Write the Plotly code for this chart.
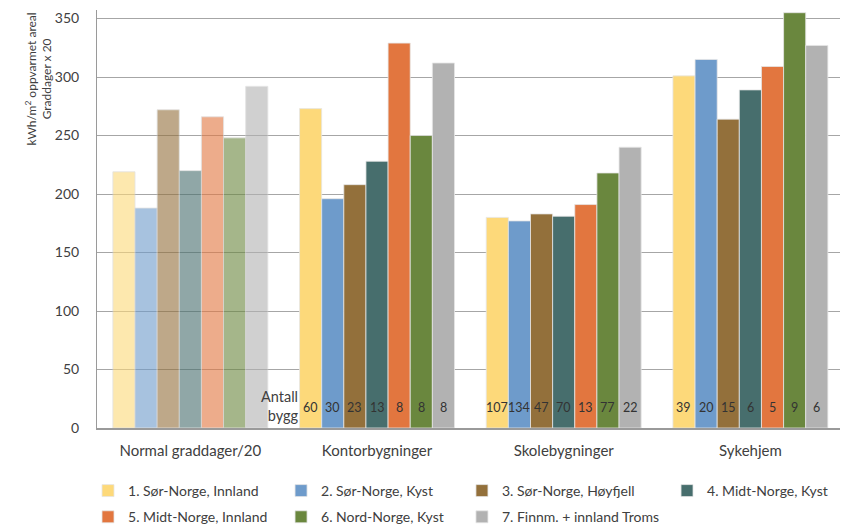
import plotly.graph_objects as go

# --- data -------------------------------------------------------------
categories = ["Normal graddager/20", "Kontorbygninger", "Skolebygninger", "Sykehjem"]
series_names = [
    "1. Sør-Norge, Innland",
    "2. Sør-Norge, Kyst",
    "3. Sør-Norge, Høyfjell",
    "4. Midt-Norge, Kyst",
    "5. Midt-Norge, Innland",
    "6. Nord-Norge, Kyst",
    "7. Finnm. + innland Troms",
]
# normal degree days / 20 per climate zone
normal_graddager = [219, 188, 272, 220, 266, 248, 292]
# kWh/m2 heated area per building type, one list per zone (Kontor, Skole, Sykehjem)
kontor = [273, 196, 208, 228, 329, 250, 312]
skole = [180, 177, 183, 181, 191, 218, 240]
sykehjem = [301, 315, 264, 289, 309, 355, 327]
# number of buildings behind each bar
antall_kontor = [60, 30, 23, 13, 8, 8, 8]
antall_skole = [107, 134, 47, 70, 13, 77, 22]
antall_sykehjem = [39, 20, 15, 6, 5, 9, 6]
y_ticks = [0, 50, 100, 150, 200, 250, 300, 350]

# --- styling ----------------------------------------------------------
colors = ["#FDD97A", "#6E9BCB", "#93703B", "#476E6D", "#E2763F", "#6A873E", "#B2B2B2"]
FONT = "Lato"
TXT = "#404040"
BARGAP = 0.17
LABEL_Y = 17.4

energy = [kontor, skole, sykehjem]
counts = [antall_kontor, antall_skole, antall_sykehjem]

# legend laid out as four columns (one legend box per column)
legend_ids = ["legend", "legend2", "legend3", "legend4"]
legend_x = [-0.0121, 0.2477, 0.4912, 0.7672]

fig = go.Figure()

for i, name in enumerate(series_names):
    # faded reference bar (degree days)
    fig.add_trace(go.Bar(
        x=[categories[0]], y=[normal_graddager[i]],
        offsetgroup=str(i), name=name, showlegend=False,
        legendgroup=str(i), legend=legend_ids[i % 4],
        marker=dict(color=colors[i], opacity=0.6,
                    line=dict(color="#D0D0D0", width=0.8)),
        hoverinfo="skip",
    ))
    # energy use per building type
    fig.add_trace(go.Bar(
        x=categories[1:], y=[e[i] for e in energy],
        offsetgroup=str(i), name=name,
        legendgroup=str(i), legend=legend_ids[i % 4],
        marker=dict(color=colors[i], line=dict(color="#E6E6E6", width=0.8)),
    ))

# building counts at the foot of each bar
w = (1 - BARGAP) / len(series_names)
annotations = []
for j, cnt in enumerate(counts, start=1):
    for i, n in enumerate(cnt):
        annotations.append(dict(
            x=j + (i - 3) * w, y=LABEL_Y, xref="x", yref="y",
            text=str(n), showarrow=False,
            font=dict(family=FONT, size=12.5, color="#333333"),
        ))
annotations.append(dict(
    x=1 - 3.5 * w, y=LABEL_Y + 1, xref="x", yref="y",
    xanchor="right", yanchor="middle", align="right",
    text="Antall<br>bygg", showarrow=False,
    font=dict(family=FONT, size=14.5, color=TXT),
))
# two-line y-axis title
annotations.append(dict(
    x=-0.078, y=0.834, xref="paper", yref="paper",
    text="kWh/m<sup>2</sup> oppvarmet areal<br>Graddager x 20",
    textangle=-90, showarrow=False, align="center",
    xanchor="center", yanchor="middle",
    font=dict(family=FONT, size=12, color=TXT),
))

legend_common = dict(
    orientation="v", xanchor="left", yanchor="middle",
    tracegroupgap=5, traceorder="grouped",
    font=dict(family=FONT, size=14, color=TXT),
    bgcolor="rgba(0,0,0,0)", itemclick=False,
)
legends = {}
for k, lid in enumerate(legend_ids):
    two_rows = k < 3
    legends[lid] = dict(x=legend_x[k], y=-0.1818 if two_rows else -0.1507,
                        **legend_common)

fig.update_layout(
    width=841, height=526,
    margin=dict(l=97, r=1, t=10, b=98, autoexpand=False),
    paper_bgcolor="white", plot_bgcolor="white",
    barmode="group", bargap=BARGAP, bargroupgap=0,
    font=dict(family=FONT, size=13, color=TXT),
    xaxis=dict(
        type="category", categoryorder="array", categoryarray=categories,
        range=[-0.5, 3.48],
        showline=True, linecolor="#9A9A9A", linewidth=2,
        showgrid=False, ticks="", ticklabelstandoff=8,
        tickfont=dict(family=FONT, size=15, color=TXT),
    ),
    yaxis=dict(
        range=[0, 357.3], tickvals=y_ticks,
        showline=True, linecolor="#9A9A9A", linewidth=1,
        showgrid=True, gridcolor="#A6A6A6", gridwidth=1,
        zeroline=False, ticks="", ticklabelstandoff=14,
        tickfont=dict(family=FONT, size=14, color=TXT),
    ),
    annotations=annotations,
    **legends,
)

fig.write_html("out.html")
